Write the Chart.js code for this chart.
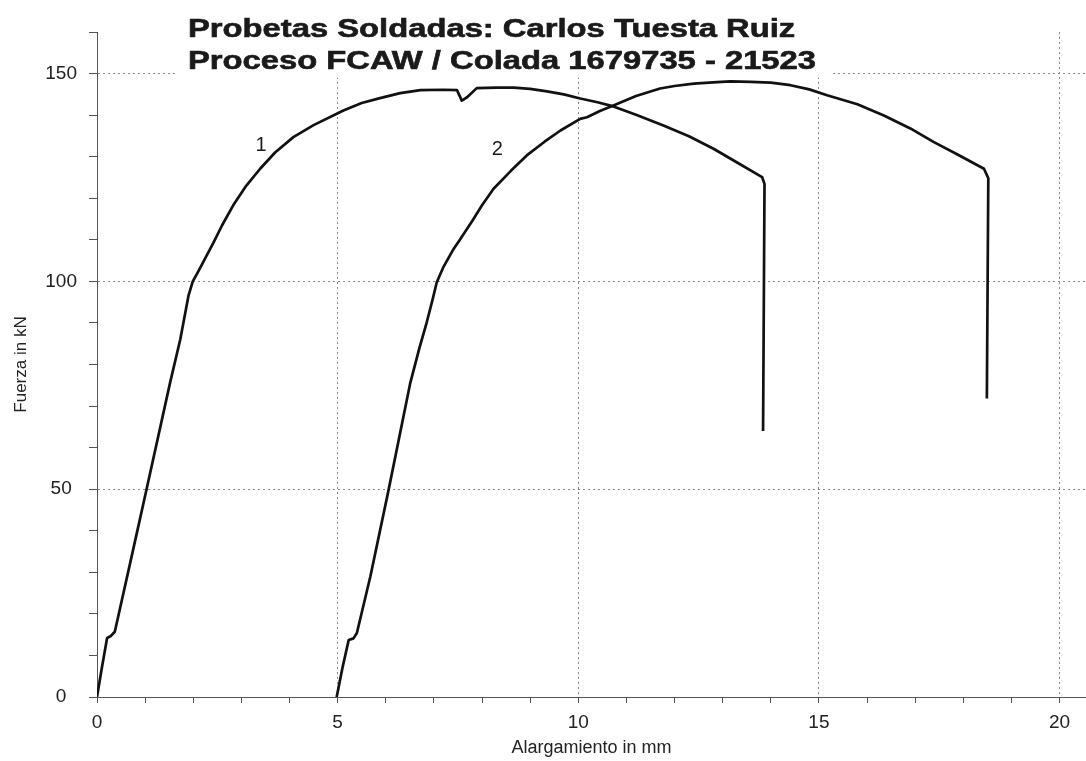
<!DOCTYPE html>
<html lang="es">
<head>
  <meta charset="UTF-8" />
  <title>Probetas Soldadas</title>
  <script src="https://cdn.jsdelivr.net/npm/chart.js"></script>
  <style>
    html, body { margin: 0; padding: 0; background: #ffffff; }
    #wrap { width: 1086px; height: 761px; position: relative; }
  </style>
</head>
<body>
  <div id="wrap"><canvas id="tensile"></canvas></div>
  <script>
    // Curve 1 (Probeta 1): elongation in mm, force in kN
    const elong1 = [0, 0.1, 0.21, 0.28, 0.37, 0.75, 1.03, 1.52, 1.73, 1.9, 1.99, 2.1, 2.25, 2.42, 2.6, 2.83, 3.1, 3.39, 3.7, 4.08, 4.5, 5.12, 5.5, 5.88, 6.3, 6.72, 7.2, 7.48, 7.58, 7.69, 7.89, 8.3, 8.66, 9.0, 9.35, 9.7, 10.04, 10.4, 10.73, 11.2, 11.77, 12.3, 12.81, 13.3, 13.82, 13.87, 13.84];
    const force1 = [0, 7, 14.2, 14.6, 15.7, 35.4, 50, 75.7, 86, 96.5, 100, 102.3, 105.6, 109.3, 113.5, 118.3, 123.0, 127.1, 131.0, 134.7, 137.6, 141.1, 142.9, 144.1, 145.3, 146.0, 146.1, 146.0, 143.5, 144.3, 146.5, 146.6, 146.6, 146.3, 145.7, 145.0, 144.0, 143.1, 142.1, 140.1, 137.5, 134.9, 131.9, 128.6, 125.1, 123.4, 64];

    // Curve 2 (Probeta 2)
    const elong2 = [4.98, 5.1, 5.23, 5.33, 5.40, 5.68, 6.06, 6.51, 6.7, 6.85, 6.97, 7.06, 7.2, 7.41, 7.55, 7.8, 8.0, 8.24, 8.6, 8.93, 9.3, 9.63, 10.04, 10.18, 10.45, 10.73, 11.2, 11.7, 12.0, 12.4, 12.8, 13.16, 13.58, 14.0, 14.41, 14.8, 15.17, 15.8, 16.35, 16.9, 17.39, 17.9, 18.43, 18.52, 18.49];
    const force2 = [0, 7, 13.7, 14.1, 15.4, 29.0, 49.9, 75.6, 84.0, 90.1, 95.5, 99.8, 103.5, 107.8, 110.2, 114.6, 118.3, 122.3, 126.6, 130.3, 133.6, 136.3, 139.1, 139.5, 141.0, 142.3, 144.6, 146.4, 147.0, 147.6, 147.9, 148.1, 148.0, 147.8, 147.2, 146.2, 144.8, 142.6, 139.9, 136.8, 133.5, 130.4, 127.1, 124.8, 71.8];

    // curve tags "1" and "2" (x mm, y kN)
    const tagText = ['1', '2'];
    const tagX = [3.41, 8.32];
    const tagY = [132.6, 131.7];

    const titleLines = ['Probetas Soldadas: Carlos Tuesta Ruiz', 'Proceso FCAW / Colada 1679735 - 21523'];
    const xTitle = 'Alargamiento in mm';
    const yTitle = 'Fuerza in kN';

    const toPoints = (xs, ys) => xs.map((x, i) => ({ x: x, y: ys[i] }));

    const decorPlugin = {
      id: 'decor',
      beforeDatasetsDraw(chart) {
        // white patch behind the title (hides grid like on the printout)
        const { ctx, scales: { x, y } } = chart;
        const x0 = x.getPixelForValue(1.66), x1 = x.getPixelForValue(15.24);
        const yTop = chart.chartArea.top, yBot = y.getPixelForValue(149);
        ctx.save();
        ctx.fillStyle = '#ffffff';
        ctx.fillRect(x0, yTop - 1, x1 - x0, yBot - yTop + 1);
        ctx.restore();
      },
      afterDraw(chart) {
        const { ctx, scales: { x, y } } = chart;
        ctx.save();
        ctx.fillStyle = '#1a1a1a';
        ctx.font = '20px "Liberation Sans", Arial, sans-serif';
        ctx.textAlign = 'center';
        ctx.textBaseline = 'middle';
        tagText.forEach((t, i) => {
          ctx.fillText(t, x.getPixelForValue(tagX[i]), y.getPixelForValue(tagY[i]));
        });
        ctx.font = 'bold 25px "Liberation Sans", Arial, sans-serif';
        ctx.textAlign = 'left';
        ctx.textBaseline = 'alphabetic';
        ctx.strokeStyle = '#1a1a1a';
        ctx.lineWidth = 0.6;
        [[188, 37], [188, 69]].forEach((p, i) => {
          ctx.save();
          ctx.translate(p[0], p[1]);
          ctx.scale(1.31, 1);
          ctx.fillText(titleLines[i], 0, 0);
          ctx.strokeText(titleLines[i], 0, 0);
          ctx.restore();
        });
        ctx.restore();
      }
    };

    const tickFont = { family: '"Liberation Sans", Arial, sans-serif', size: 19 };

    new Chart(document.getElementById('tensile'), {
      type: 'line',
      data: {
        datasets: [
          { label: '1', data: toPoints(elong1, force1), borderColor: '#111', borderWidth: 2.7, pointRadius: 0, tension: 0, fill: false, borderJoinStyle: 'round' },
          { label: '2', data: toPoints(elong2, force2), borderColor: '#111', borderWidth: 2.7, pointRadius: 0, tension: 0, fill: false, borderJoinStyle: 'round' }
        ]
      },
      options: {
        responsive: true,
        maintainAspectRatio: false,
        animation: false,
        layout: { padding: { top: 32, right: 0, bottom: 0, left: 0 } },
        plugins: { legend: { display: false }, tooltip: { enabled: false } },
        scales: {
          x: {
            type: 'linear',
            min: 0,
            max: 20.55,
            afterFit(scale) { scale.height = 64; },
            ticks: {
              stepSize: 1,
              autoSkip: false,
              includeBounds: false,
              maxRotation: 0,
              padding: 8,
              color: '#222',
              font: tickFont,
              callback: v => (v % 5 === 0 ? v : '')
            },
            grid: {
              color: c => (c.tick && c.tick.value % 5 === 0 && c.tick.value !== 0 ? '#888' : 'transparent'),
              tickColor: '#555',
              tickLength: 6,
              lineWidth: 1
            },
            border: { display: true, color: '#555', width: 1, dash: [2, 3] },
            title: {
              display: true,
              text: xTitle,
              color: '#222',
              font: { family: '"Liberation Sans", Arial, sans-serif', size: 18 },
              padding: { top: 0, bottom: 2 }
            }
          },
          y: {
            type: 'linear',
            min: 0,
            max: 160,
            afterFit(scale) { scale.width = 97; },
            ticks: {
              stepSize: 10,
              autoSkip: false,
              crossAlign: 'center',
              padding: 12,
              color: '#222',
              font: tickFont,
              callback: v => (v % 50 === 0 ? v : '')
            },
            grid: {
              color: c => (c.tick && c.tick.value % 50 === 0 && c.tick.value !== 0 ? '#888' : 'transparent'),
              tickColor: '#555',
              tickLength: 8,
              lineWidth: 1
            },
            border: { display: true, color: '#555', width: 1, dash: [2, 3] },
            title: {
              display: true,
              text: yTitle,
              color: '#222',
              font: { family: '"Liberation Sans", Arial, sans-serif', size: 17 },
              padding: { top: 11, bottom: 0 }
            }
          }
        }
      },
      plugins: [decorPlugin]
    });
  </script>
</body>
</html>
